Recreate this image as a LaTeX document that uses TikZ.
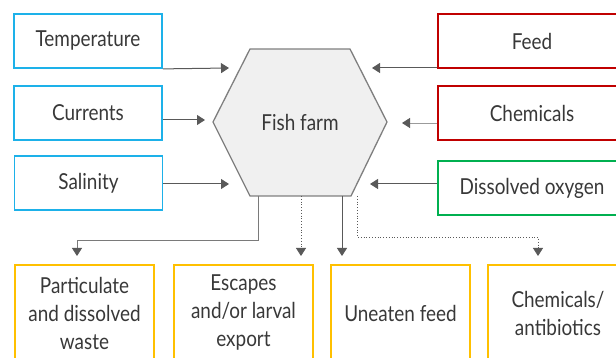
\documentclass[tikz,border=0pt]{standalone}
\usepackage{fontspec}
\setmainfont{Lato}[FakeStretch=0.86]
\usetikzlibrary{arrows.meta}
\definecolor{tblue}{HTML}{1DB1E9}
\definecolor{tred}{HTML}{C00000}
\definecolor{tgreen}{HTML}{00B050}
\definecolor{tyellow}{HTML}{FFC000}
\definecolor{txt}{HTML}{383838}
\definecolor{arr}{HTML}{595959}
\definecolor{hexfill}{HTML}{F0F0F0}
\definecolor{hexline}{HTML}{7F7F7F}
\begin{document}
\begin{tikzpicture}[x=1pt,y=-1pt,
  box/.style={draw, line width=1.8pt, minimum height=54pt, text=txt, font=\fontsize{22}{28}\selectfont, align=center, inner sep=0pt},
  inbox/.style={box, minimum width=148pt},
  rbox/.style={box, minimum width=188pt},
  outbox/.style={box, minimum width=139pt, minimum height=96pt},
  tip/.style={-{Triangle[length=8pt,width=10pt,color=arr,fill=arr]}},
  flow/.style={draw=arr, line width=1pt, tip},
  lightflow/.style={draw=arr!60, line width=0.8pt, tip},
  dflow/.style={draw=arr, line width=0.8pt, dotted, tip}
]
\useasboundingbox (0,0) rectangle (616,358);
\clip (0,0) rectangle (616,358);
% hexagon
\coordinate (hL) at (213,122);
\coordinate (hTL) at (250,49);
\coordinate (hTR) at (350,49);
\coordinate (hR) at (387,122);
\coordinate (hBR) at (351,196);
\coordinate (hBL) at (250,196);
\draw[fill=hexfill, draw=hexline, line width=1.3pt, line join=miter] (hL) -- (hTL) -- (hTR) -- (hR) -- (hBR) -- (hBL) -- cycle;
\node[text=txt, font=\fontsize{22}{26}\selectfont] (farm) at (300,122) {Fish farm};
% left boxes
\node[inbox, draw=tblue] (temp) at (88,41) {Temperature};
\node[inbox, draw=tblue] (curr) at (88,113) {Currents};
\node[inbox, draw=tblue] (sal) at (88.5,183) {Salinity};
% right boxes
\node[rbox, draw=tred] (feed) at (532,41) {Feed};
\node[rbox, draw=tred] (chem) at (532,113) {Chemicals};
\node[rbox, draw=tgreen] (oxy) at (532,188) {Dissolved oxygen};
% bottom boxes
\node[outbox, draw=tyellow] (waste) at (84.5,313) {Particulate\\and dissolved\\waste};
\node[outbox, draw=tyellow] (esc) at (243.5,313) {Escapes\\and/or larval\\export};
\node[outbox, draw=tyellow] (unf) at (400.5,313) {Uneaten feed};
\node[outbox, draw=tyellow, minimum width=140pt] (anti) at (558,313) {Chemicals/\\antibiotics};
% input arrow targets
\coordinate (tT) at (229,68);
\coordinate (tC) at (205,120);
\coordinate (tS) at (229,184);
\coordinate (tF) at (372,68);
\coordinate (tCh) at (402,123);
\coordinate (tO) at (370,184);
\draw[flow] (temp.south east) -- (tT);
\draw[flow] (curr.east |- tC) -- (tC);
\draw[flow] (sal.east |- tS) -- (tS);
\draw[flow] (feed.west |- tF) -- (tF);
\draw[lightflow] (chem.west |- tCh) -- (tCh);
\draw[flow] (oxy.west |- tO) -- (tO);
% outputs
\coordinate (o1) at (258,196);
\coordinate (o2) at (301,196);
\coordinate (o3) at (342,196);
\coordinate (o4) at (357,196);
\coordinate (w1) at (77,256);
\coordinate (e1) at (301,256);
\coordinate (u1) at (342,256);
\coordinate (a1) at (538,256);
\draw[flow, draw=arr!80, line width=0.9pt] (o1) -- (258,240) -- (77,240) -- (w1);
\draw[dflow] (o2) -- (e1);
\draw[flow] (o3) -- (u1);
\draw[dflow] (o4) -- (357,237) -- (538,237) -- (a1);
\end{tikzpicture}
\end{document}
